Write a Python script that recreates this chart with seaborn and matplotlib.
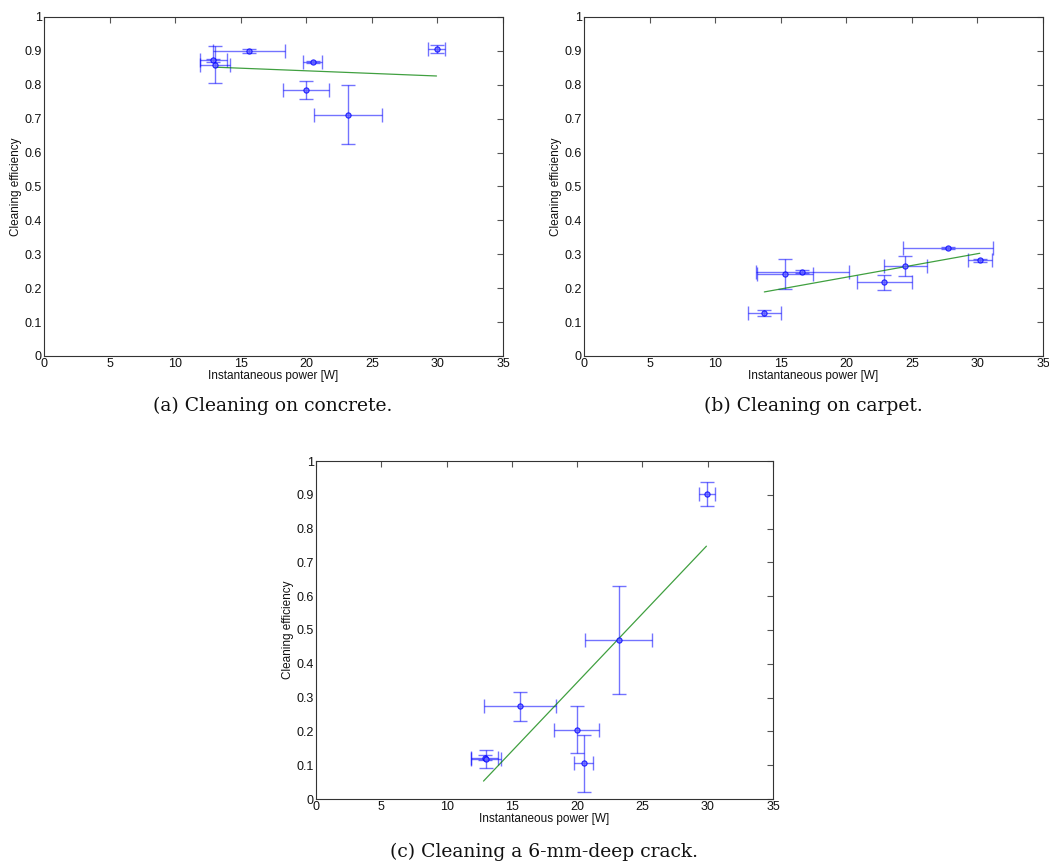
import numpy as np
import pandas as pd
import matplotlib
matplotlib.use("Agg")
import matplotlib.pyplot as plt
import seaborn as sns

# ---- data ----
# (a) concrete and (c) crack share the same power measurements
power_ac = [12.92, 13.04, 15.6, 19.96, 20.5, 23.19, 29.93]
power_err_ac = [1.05, 1.15, 2.75, 1.74, 0.72, 2.57, 0.62]

eff_a = [0.872, 0.859, 0.900, 0.784, 0.867, 0.711, 0.906]
eff_err_a = [0.005, 0.054, 0.007, 0.026, 0.004, 0.087, 0.011]
fit_x_a = [13.04, 29.93]
fit_y_a = [0.852, 0.826]

power_b = [13.75, 15.31, 16.65, 22.91, 24.51, 27.79, 30.18]
power_err_b = [1.27, 2.12, 3.57, 2.10, 1.63, 3.43, 0.93]
eff_b = [0.127, 0.241, 0.249, 0.217, 0.266, 0.319, 0.282]
eff_err_b = [0.009, 0.044, 0.004, 0.022, 0.030, 0.004, 0.004]
fit_x_b = [13.75, 30.18]
fit_y_b = [0.189, 0.303]

eff_c = [0.122, 0.118, 0.274, 0.205, 0.106, 0.471, 0.903]
eff_err_c = [0.008, 0.026, 0.044, 0.069, 0.084, 0.160, 0.036]
fit_x_c = [12.83, 29.9]
fit_y_c = [0.053, 0.748]

x_ticks = [0, 5, 10, 15, 20, 25, 30, 35]
y_ticks = [0, 0.1, 0.2, 0.3, 0.4, 0.5, 0.6, 0.7, 0.8, 0.9, 1]
y_tick_labels = ["0", "0.1", "0.2", "0.3", "0.4", "0.5", "0.6", "0.7", "0.8", "0.9", "1"]
captions = ["(a) Cleaning on concrete.", "(b) Cleaning on carpet.", "(c) Cleaning a 6-mm-deep crack."]
xlabel = "Instantaneous power [W]"
ylabel = "Cleaning efficiency"

sns.set_style("white")
plt.rcParams["font.family"] = ["Liberation Sans", "DejaVu Sans"]

fig = plt.figure(figsize=(10.49, 8.64), dpi=100)
W, H = 1049, 864

def ax_at(left, top, right, bottom):
    return fig.add_axes([left / W, 1 - bottom / H, (right - left) / W, (bottom - top) / H])

axes = [ax_at(44, 17, 503, 356), ax_at(584, 17, 1043, 356), ax_at(316, 461, 773, 799)]
caption_pos = [(273, 406), (813, 406), (544, 852)]

panels = [
    (power_ac, power_err_ac, eff_a, eff_err_a, fit_x_a, fit_y_a),
    (power_b, power_err_b, eff_b, eff_err_b, fit_x_b, fit_y_b),
    (power_ac, power_err_ac, eff_c, eff_err_c, fit_x_c, fit_y_c),
]

blue = (0.0, 0.0, 1.0)
green = (0.0, 0.5, 0.0)

for ax, (px, pxe, ey, eye, fx, fy), cap, cpos in zip(axes, panels, captions, caption_pos):
    df = pd.DataFrame({"p": px, "e": ey})
    ax.errorbar(px, ey, xerr=pxe, yerr=eye, fmt="none", ecolor=blue, alpha=0.55,
                elinewidth=1.0, capsize=5, capthick=1.0, zorder=2)
    sns.scatterplot(data=df, x="p", y="e", ax=ax, marker="o", s=14,
                    facecolor=(0.4, 0.4, 1.0), edgecolor=blue, linewidth=0.8, alpha=0.8, zorder=3)
    fdf = pd.DataFrame({"x": fx, "y": fy})
    sns.lineplot(data=fdf, x="x", y="y", ax=ax, color=green, linewidth=0.9, alpha=0.75, zorder=2)
    ax.set_xlim(0, 35)
    ax.set_ylim(0, 1)
    ax.set_xticks(x_ticks)
    ax.set_xticklabels([str(t) for t in x_ticks])
    ax.set_yticks(y_ticks)
    ax.set_yticklabels(y_tick_labels)
    ax.tick_params(direction="in", length=4, width=0.8, color="#555555",
                   labelsize=9, pad=1.5, top=True, right=True, labelcolor="#111111")
    for s in ax.spines.values():
        s.set_visible(True)
        s.set_color("#333333")
        s.set_linewidth(0.8)
    ax.set_xlabel(xlabel, fontsize=8.5, labelpad=0, color="#111111")
    ax.set_ylabel(ylabel, fontsize=8.5, labelpad=2, color="#111111")
    ax.grid(False)
    fig.text(cpos[0] / W, 1 - cpos[1] / H, cap, ha="center", va="center",
             fontsize=13.5, family=["DejaVu Serif"], color="#111111")

fig.savefig("out.png", dpi=100, facecolor="white")
